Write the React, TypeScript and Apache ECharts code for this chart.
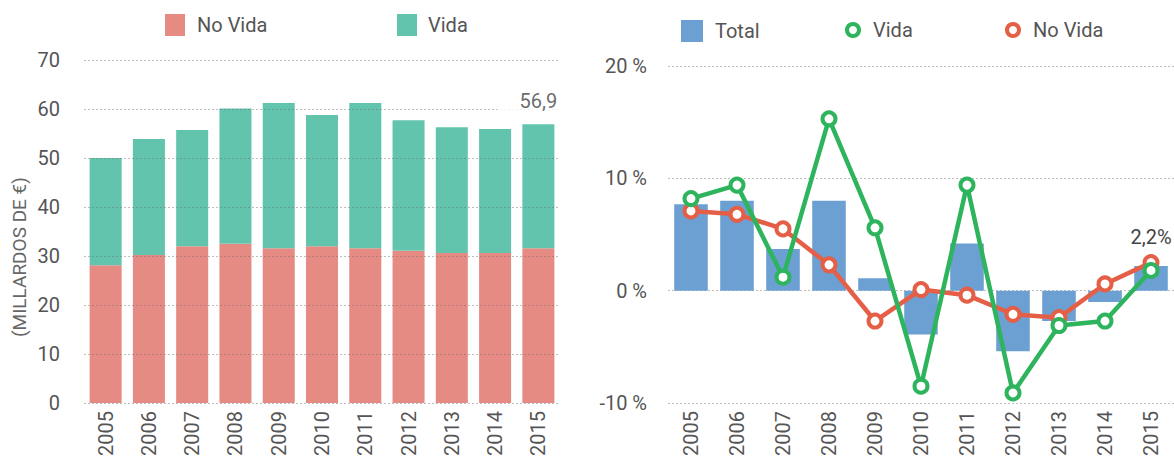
import React, { useEffect, useRef } from "react";
import * as echarts from "echarts";

const years = ["2005", "2006", "2007", "2008", "2009", "2010", "2011", "2012", "2013", "2014", "2015"];

// Left chart: premiums (billions of €)
const noVidaBn = [28.1, 30.2, 32.0, 32.5, 31.6, 32.0, 31.6, 31.1, 30.6, 30.6, 31.6];
const vidaBn = [21.9, 23.7, 23.7, 27.6, 29.6, 26.8, 29.6, 26.6, 25.7, 25.3, 25.3];
const leftAxis = { min: 0, max: 70, interval: 10 };

// Right chart: annual growth (%)
const totalGrowth = [7.7, 8.0, 3.7, 8.0, 1.1, -3.9, 4.2, -5.4, -2.7, -1.0, 2.2];
const vidaGrowth = [8.2, 9.4, 1.2, 15.3, 5.6, -8.5, 9.4, -9.1, -3.1, -2.7, 1.8];
const noVidaGrowth = [7.1, 6.8, 5.5, 2.3, -2.7, 0.1, -0.4, -2.1, -2.4, 0.6, 2.5];
const rightAxis = { min: -10, max: 20, interval: 10 };

const FONT = "Roboto";
const TEXT = "#555";
const GRID_LINE = { show: true, lineStyle: { color: "rgba(110,110,110,0.45)", type: [2, 2], width: 1 } };

const C_NOVIDA_BAR = "#E68A84";
const C_VIDA_BAR = "#62C4AD";
const C_TOTAL = "#6CA0D3";
const C_VIDA_LINE = "#2DB45D";
const C_NOVIDA_LINE = "#E45F46";

const fmtComma = (v: number) => v.toFixed(1).replace(".", ",");

function leftOption(): any {
  const totals = noVidaBn.map((v, i) => +(v + vidaBn[i]).toFixed(1));
  const last = years.length - 1;
  return {
    animation: false,
    textStyle: { fontFamily: FONT },
    legend: [
      {
        data: ["No Vida"],
        left: 165,
        top: 14,
        padding: 0,
        itemWidth: 20,
        itemHeight: 22,
        icon: "rect",
        selectedMode: false,
        textStyle: { fontSize: 20, color: TEXT, fontFamily: FONT, padding: [0, 0, 0, 7] },
      },
      {
        data: ["Vida"],
        left: 397,
        top: 14,
        padding: 0,
        itemWidth: 20,
        itemHeight: 22,
        icon: "rect",
        selectedMode: false,
        textStyle: { fontSize: 20, color: TEXT, fontFamily: FONT, padding: [0, 0, 0, 6] },
      },
    ],
    grid: { left: 84, top: 60, width: 476, height: 345 },
    xAxis: {
      type: "category",
      data: years,
      axisLine: { show: false },
      axisTick: { show: false },
      axisLabel: { rotate: 90, margin: 8, fontSize: 20, color: TEXT, fontFamily: FONT },
    },
    yAxis: {
      type: "value",
      min: leftAxis.min,
      max: leftAxis.max,
      interval: leftAxis.interval,
      z: 3,
      axisLine: { show: false },
      axisTick: { show: false },
      axisLabel: { margin: 24, fontSize: 20, color: TEXT, fontFamily: FONT },
      splitLine: GRID_LINE,
    },
    graphic: [
      {
        type: "text",
        x: 19,
        y: 257,
        rotation: Math.PI / 2,
        style: {
          text: "(MILLARDOS DE €)",
          fontSize: 19,
          fontFamily: FONT,
          fill: "#666",
          align: "center",
          verticalAlign: "middle",
        },
      },
    ],
    series: [
      {
        name: "No Vida",
        type: "bar",
        stack: "total",
        data: noVidaBn,
        barWidth: "74%",
        itemStyle: { color: C_NOVIDA_BAR },
      },
      {
        name: "Vida",
        type: "bar",
        stack: "total",
        data: vidaBn,
        barWidth: "74%",
        itemStyle: { color: C_VIDA_BAR },
      },
      {
        name: "totalLabel",
        type: "scatter",
        z: 10,
        silent: true,
        symbolSize: 0,
        data: [[years[last], totals[last]]],
        label: {
          show: true,
          position: "top",
          distance: 10,
          formatter: (p: any) => fmtComma(p.value[1]),
          fontSize: 20,
          fontFamily: FONT,
          color: "#444",
          backgroundColor: "#fff",
          padding: [3, 22],
        },
      },
    ],
  };
}

function rightOption(): any {
  const last = years.length - 1;
  return {
    animation: false,
    textStyle: { fontFamily: FONT },
    legend: [
      {
        data: ["Total"],
        left: 101,
        top: 20,
        padding: 0,
        itemWidth: 22,
        itemHeight: 22,
        icon: "rect",
        selectedMode: false,
        textStyle: { fontSize: 20, color: TEXT, fontFamily: FONT, padding: [0, 0, 0, 7] },
      },
      {
        data: [
          { name: "Vida", icon: "circle", itemStyle: { color: "#fff", borderColor: C_VIDA_LINE, borderWidth: 4 } },
        ],
        left: 265,
        top: 20,
        padding: 0,
        itemWidth: 12,
        itemHeight: 12,
        selectedMode: false,
        textStyle: { fontSize: 20, color: TEXT, fontFamily: FONT, padding: [0, 0, 0, 9] },
      },
      {
        data: [
          { name: "No Vida", icon: "circle", itemStyle: { color: "#fff", borderColor: C_NOVIDA_LINE, borderWidth: 4 } },
        ],
        left: 425,
        top: 20,
        padding: 0,
        itemWidth: 12,
        itemHeight: 12,
        selectedMode: false,
        textStyle: { fontSize: 20, color: TEXT, fontFamily: FONT, padding: [0, 0, 0, 9] },
      },
    ],
    grid: { left: 88, top: 66, width: 508, height: 340 },
    xAxis: {
      type: "category",
      data: years,
      axisLine: { show: false, onZero: false },
      axisTick: { show: false },
      axisLabel: { rotate: 90, margin: 8, fontSize: 20, color: TEXT, fontFamily: FONT },
    },
    yAxis: {
      type: "value",
      min: rightAxis.min,
      max: rightAxis.max,
      interval: rightAxis.interval,
      axisLine: { show: false },
      axisTick: { show: false },
      axisLabel: {
        margin: 21,
        fontSize: 20,
        color: TEXT,
        fontFamily: FONT,
        formatter: (v: number) => `${v} %`,
      },
      splitLine: GRID_LINE,
    },
    series: [
      {
        name: "Total",
        type: "bar",
        data: totalGrowth.map((v, i) =>
          i === last
            ? {
                value: v,
                label: {
                  show: true,
                  position: "top",
                  distance: 19,
                  formatter: (p: any) => `${fmtComma(p.value)}%`,
                  fontSize: 20,
                  fontFamily: FONT,
                  color: "#444",
                },
              }
            : v
        ),
        barWidth: "73%",
        itemStyle: { color: C_TOTAL },
      },
      {
        name: "No Vida",
        type: "line",
        data: noVidaGrowth,
        symbol: "circle",
        symbolSize: 13,
        lineStyle: { color: C_NOVIDA_LINE, width: 4.5 },
        itemStyle: { color: "#fff", borderColor: C_NOVIDA_LINE, borderWidth: 4 },
        z: 3,
      },
      {
        name: "Vida",
        type: "line",
        data: vidaGrowth,
        symbol: "circle",
        symbolSize: 13,
        lineStyle: { color: C_VIDA_LINE, width: 4.5 },
        itemStyle: { color: "#fff", borderColor: C_VIDA_LINE, borderWidth: 4 },
        z: 4,
      },
    ],
  };
}

function Chart({ option, style }: { option: any; style: React.CSSProperties }) {
  const ref = useRef<HTMLDivElement>(null);
  useEffect(() => {
    if (!ref.current) return;
    const chart = echarts.init(ref.current, undefined, { renderer: "svg" });
    chart.setOption(option);
    return () => chart.dispose();
  }, [option]);
  return <div ref={ref} style={style} />;
}

const LEFT = leftOption();
const RIGHT = rightOption();

export default function App() {
  return (
    <div style={{ position: "absolute", left: 0, top: 0, width: 1174, height: 459, overflow: "hidden", background: "#fff" }}>
      <Chart option={LEFT} style={{ position: "absolute", left: 0, top: 0, width: 580, height: 459 }} />
      <Chart option={RIGHT} style={{ position: "absolute", left: 580, top: 0, width: 594, height: 459 }} />
    </div>
  );
}
